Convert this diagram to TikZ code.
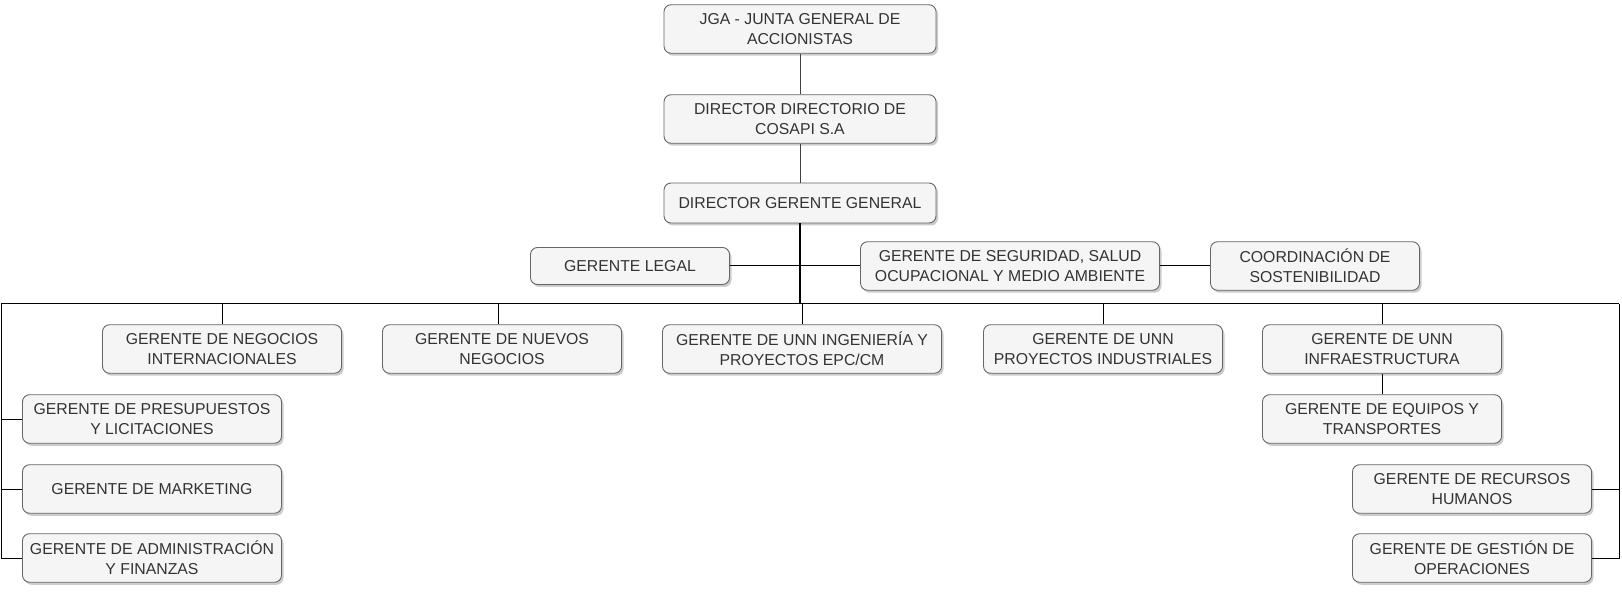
\documentclass[tikz,border=0pt]{standalone}
\usepackage{fontspec}
\setmainfont{Liberation Sans}
\usetikzlibrary{shadows}
\definecolor{boxfill}{HTML}{F5F5F5}
\definecolor{boxline}{HTML}{666666}
\definecolor{boxtext}{HTML}{333333}
\begin{document}
\begin{tikzpicture}[x=1pt,y=-1pt,
    cargo/.style={draw=boxline,fill=boxfill,text=boxtext,line width=0.9pt,
      rounded corners=7pt,align=center,minimum height=48.5pt,inner sep=2pt,
      font=\fontsize{15.8}{20}\selectfont,
      drop shadow={shadow xshift=2pt,shadow yshift=-2.5pt,fill=black,opacity=0.2}},
    link/.style={line width=1pt,black},
    trunk/.style={line width=2pt,black}]
  \useasboundingbox (0,0) rectangle (1622,593);
  \node[cargo,minimum width=272pt] (jga) at (800,29) {JGA - JUNTA GENERAL DE\\ACCIONISTAS};
  \node[cargo,minimum width=272pt] (dir) at (800,119) {DIRECTOR DIRECTORIO DE\\COSAPI S.A};
  \node[cargo,minimum width=272pt,minimum height=40pt] (dgg) at (800,203) {DIRECTOR GERENTE GENERAL};
  \node[cargo,minimum width=199pt,minimum height=37pt] (legal) at (630,266) {GERENTE LEGAL};
  \node[cargo,minimum width=299pt] (sso) at (1010,266) {GERENTE DE SEGURIDAD, SALUD\\OCUPACIONAL Y MEDIO AMBIENTE};
  \node[cargo,minimum width=209pt] (coord) at (1315,266) {COORDINACIÓN DE\\SOSTENIBILIDAD};
  \node[cargo,minimum width=239pt] (negint) at (222,349) {GERENTE DE NEGOCIOS\\INTERNACIONALES};
  \node[cargo,minimum width=239pt] (nuevos) at (502,349) {GERENTE DE NUEVOS\\NEGOCIOS};
  \node[cargo,minimum width=279pt] (ing) at (802,349) {GERENTE DE UNN INGENIERÍA Y\\PROYECTOS EPC/CM};
  \node[cargo,minimum width=239pt] (proy) at (1103,349) {GERENTE DE UNN\\PROYECTOS INDUSTRIALES};
  \node[cargo,minimum width=239pt] (infra) at (1382,349) {GERENTE DE UNN\\INFRAESTRUCTURA};
  \node[cargo,minimum width=239pt] (equipos) at (1382,419) {GERENTE DE EQUIPOS Y\\TRANSPORTES};
  \node[cargo,minimum width=259pt] (presup) at (152,419) {GERENTE DE PRESUPUESTOS\\Y LICITACIONES};
  \node[cargo,minimum width=259pt] (mkt) at (152,489) {GERENTE DE MARKETING};
  \node[cargo,minimum width=259pt] (admin) at (152,558) {GERENTE DE ADMINISTRACIÓN\\Y FINANZAS};
  \node[cargo,minimum width=239pt] (rrhh) at (1472,489) {GERENTE DE RECURSOS\\HUMANOS};
  \node[cargo,minimum width=239pt] (gestion) at (1472,558) {GERENTE DE GESTIÓN DE\\OPERACIONES};
  \coordinate (busL) at (1,304);
  \coordinate (busR) at (1619,304);
  \draw[link,black!75] (jga) -- (dir);
  \draw[link,black!75] (dir) -- (dgg);
  \draw[trunk] (dgg) -- (dgg.south |- busL);
  \draw[link] (legal) -- (sso);
  \draw[link] (sso) -- (coord);
  \draw[link] (busL) -- (busR);
  \foreach \n in {negint,ing,proy,infra}
    \draw[link] (\n.north) -- (\n.north |- busL);
  \draw[link] ([xshift=-4pt]nuevos.north) -- ([xshift=-4pt]nuevos.north |- busL);
  \draw[link] (infra) -- (equipos);
  \draw[link] (busL) |- (admin.west);
  \foreach \n in {presup,mkt}
    \draw[link] (\n.west) -- (\n.west -| busL);
  \draw[link] (busR) |- (gestion.east);
  \draw[link] (rrhh.east) -- (rrhh.east -| busR);
\end{tikzpicture}
\end{document}
